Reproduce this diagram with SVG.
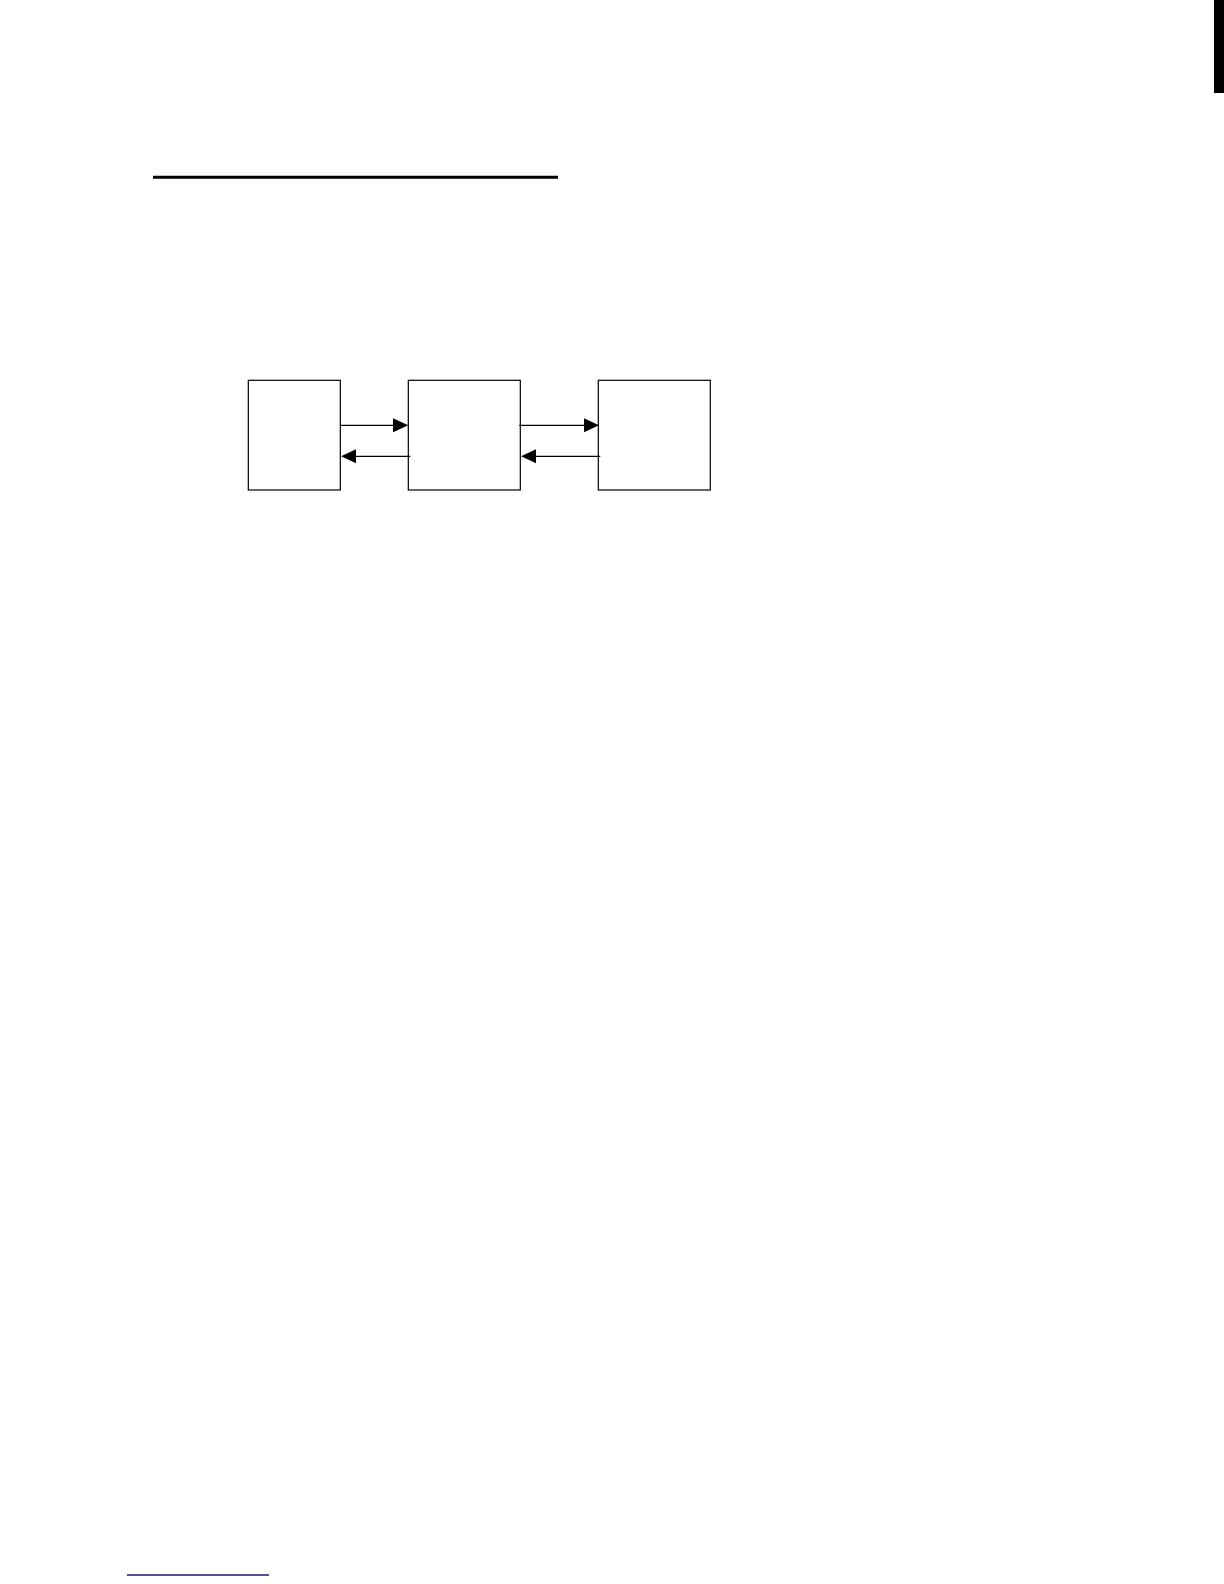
<svg xmlns="http://www.w3.org/2000/svg" width="1224" height="1584" viewBox="0 0 1224 1584">
<style>
.box{fill:#ffffff;stroke:#000000;stroke-width:1.2}
.conn{stroke:#000000;stroke-width:1.2;fill:none}
.head{fill:#000000}
</style>
<rect x="0" y="0" width="1224" height="1584" fill="#ffffff"/>
<rect x="1214" y="0" width="10" height="93" fill="#000000"/>
<line x1="153" y1="177.2" x2="558" y2="177.2" stroke="#000000" stroke-width="3"/>
<g id="node1"><rect class="box" x="248.3" y="380.3" width="92" height="109.7"/></g>
<g id="node2"><rect class="box" x="408.3" y="380.3" width="112" height="109.7"/></g>
<g id="node3"><rect class="box" x="598.3" y="380.3" width="112" height="109.7"/></g>
<g id="connectors">
<line class="conn" x1="340.3" y1="425.3" x2="396" y2="425.3"/>
<polygon class="head" points="393,418.3 408.3,425.3 393,432.3"/>
<line class="conn" x1="410.3" y1="456.3" x2="354" y2="456.3"/>
<polygon class="head" points="356,449.3 341,456.3 356,463.3"/>
<line class="conn" x1="519.3" y1="425.3" x2="586" y2="425.3"/>
<polygon class="head" points="584,418.3 599,425.3 584,432.3"/>
<line class="conn" x1="600.3" y1="456.3" x2="534" y2="456.3"/>
<polygon class="head" points="536,449.3 521,456.3 536,463.3"/>
</g>
<line x1="127" y1="1575" x2="269" y2="1575" stroke="#1a1a80" stroke-width="1.3"/>
</svg>
